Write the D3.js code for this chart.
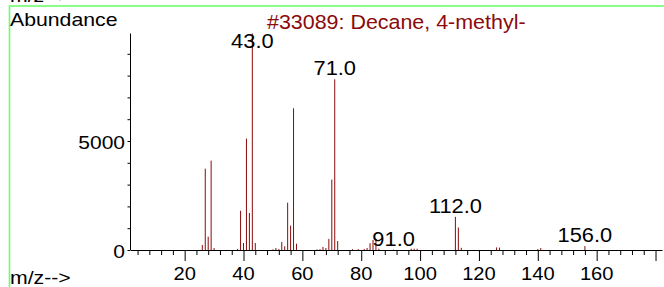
<!DOCTYPE html>
<html lang="en">
  <meta charset="utf-8" />
  <head>
    <title>Decane, 4-methyl- spectrum</title>
    <script src="https://cdn.jsdelivr.net/npm/d3@7"></script>
    <style>
      body { margin: 0; background: #fff; }
      text { font-family: "Liberation Sans", Arial, sans-serif; }
    </style>
  </head>
  <body>
  <script>
    // DATA
    var title = "#33089: Decane, 4-methyl-";
    var mz        = [26, 27, 28, 29, 30, 38, 39, 40, 41, 42, 43, 44, 50, 51, 52, 53, 54, 55, 56, 57, 58,
                     65, 66, 67, 68, 69, 70, 71, 72, 77, 79, 81, 82, 83, 84, 85, 86, 91, 97, 98, 99,
                     112, 113, 114, 126, 127, 140, 141, 156];
    var abundance = [230, 3730, 610, 4100, 90, 50, 1800, 320, 5110, 1700, 9930, 320, 30, 90, 40, 370, 170, 2170, 1120, 6500, 290,
                     30, 40, 140, 90, 510, 3230, 7830, 410, 40, 40, 50, 90, 310, 460, 500, 60, 20, 60, 60, 60,
                     1520, 1030, 100, 120, 110, 40, 90, 180];
    var peakLabels = [43, 71, 91, 112, 156];
    var xTickLabels = [20, 40, 60, 80, 100, 120, 140, 160];
    var yTickLabels = [0, 5000];

    // CONFIG
    var width = 664, height = 287;
    var darkRed = "#8b0a0a";

    var svg = d3.select("body").append("svg")
        .attr("width", width)
        .attr("height", height);

    var x = d3.scaleLinear().domain([1.6, 182.2]).range([130.5, 662]);
    var y = d3.scaleLinear().domain([0, 10000]).range([250, 32]);
    var yMax = d3.max(abundance);

    // stretched text, the original glyphs are wider than tall
    function label(str, px, py, size, sx, anchor, fill) {
      svg.append("text")
        .attr("transform", `translate(${px},${py}) scale(${sx},1)`)
        .attr("text-anchor", anchor)
        .attr("fill", fill)
        .style("font-size", size + "px")
        .text(str);
    }

    // green frame + header line that sits above the window
    label("m/z-->", 10, 2, 18, 1.18, "start", "#000");
    svg.append("rect")
      .attr("x", 9.5).attr("y", 6)
      .attr("width", 700).attr("height", 300)
      .attr("fill", "none")
      .attr("stroke", "#6cff6c")
      .attr("stroke-width", 1.6);

    label("Abundance", 10, 26, 17.7, 1.2, "start", "#000");
    label(title, (x.range()[0] + x.range()[1]) / 2, 29, 19.5, 1.1, "middle", darkRed);

    // bars
    svg.append("g").selectAll("line")
      .data(mz)
      .enter().append("line")
        .attr("x1", (d) => x(d)).attr("x2", (d) => x(d))
        .attr("y1", y(0))
        .attr("y2", (d, i) => y(abundance[i]))
        .attr("stroke", darkRed)
        .attr("stroke-width", 1);

    // y axis
    var yAxis = d3.axisLeft(y)
      .tickValues(d3.range(0, 10000, 1000))
      .tickSize(3).tickSizeOuter(0)
      .tickFormat("");
    var gy = svg.append("g").attr("transform", "translate(130.5,0)").call(yAxis);
    gy.select(".domain").attr("d", `M0,${y(0)}V${y(yMax)}`);
    yTickLabels.forEach((v) => label(String(v), 125, y(v) + 8, 17.5, 1.2, "end", "#000"));

    // x axis: minor ticks every 4, majors every 20
    var minor = d3.range(4, 181, 4).filter((v) => v % 20 !== 0);
    var major = d3.range(20, 181, 20);
    var gx = svg.append("g").attr("transform", `translate(0,${y(0)})`);
    gx.append("g").call(d3.axisBottom(x).tickValues(minor).tickSize(5).tickSizeOuter(0).tickFormat(""));
    gx.append("g").call(d3.axisBottom(x).tickValues(major).tickSize(11).tickSizeOuter(0).tickFormat(""))
      .select(".domain").remove();
    svg.selectAll(".tick line").attr("stroke", "#000");
    svg.selectAll(".domain").attr("stroke", "#000");
    xTickLabels.forEach((v) => label(String(v), x(v), 280, 17.5, 1.15, "middle", "#000"));

    label("m/z-->", 10, 284, 18, 1.18, "start", "#000");

    // peak labels, kept inside the top of the axis
    peakLabels.forEach(function (m) {
      var top = y(abundance[mz.indexOf(m)]);
      var by = Math.max(top - 4, y(yMax) + 14.5);
      label(m.toFixed(1), x(m), by, 19.5, 1.12, "middle", "#000");
    });
  </script>
  </body>
</html>
